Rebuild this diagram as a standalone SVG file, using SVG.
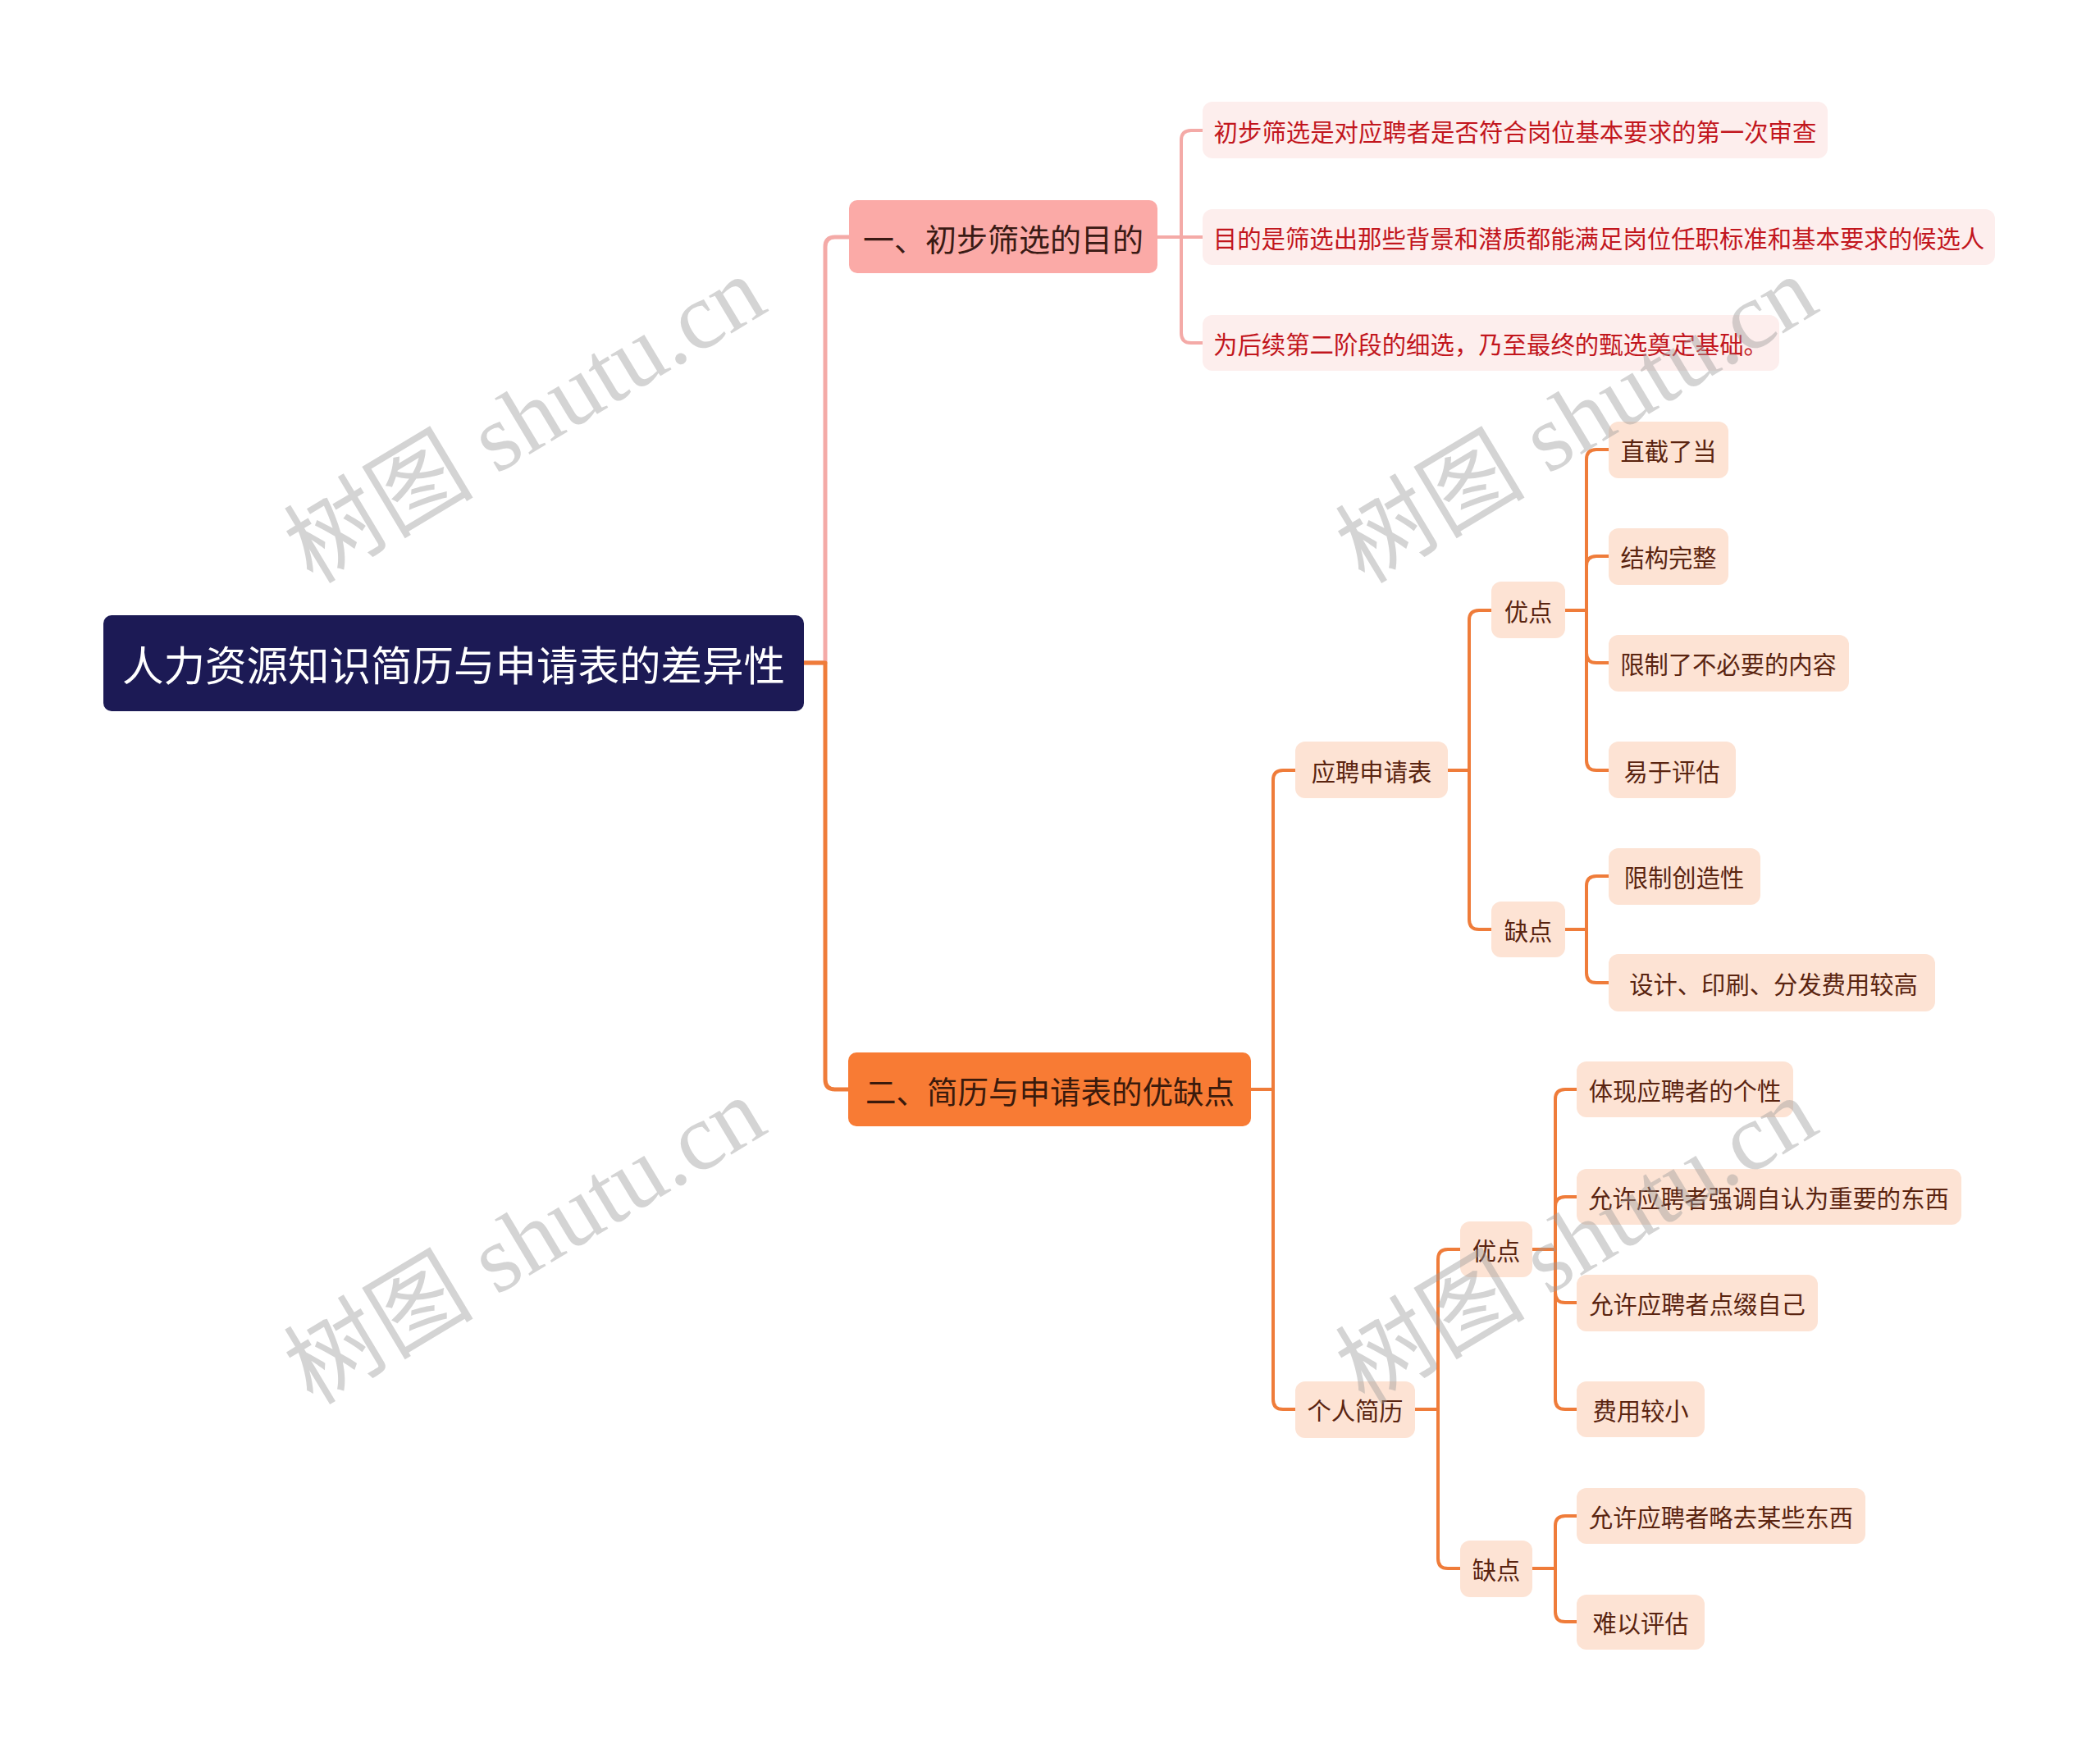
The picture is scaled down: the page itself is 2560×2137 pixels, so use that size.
<svg xmlns="http://www.w3.org/2000/svg" width="2560" height="2137" viewBox="0 0 2560 2137">
<style>
text{font-family:"Noto Sans CJK SC","Noto Sans",sans-serif;text-anchor:middle;dominant-baseline:central}
.root rect{fill:#1c1a55}
.root text{fill:#ffffff;font-size:50.5px}
.b1 rect{fill:#fbaaa7}
.b1 text{fill:#3a1a14;font-size:38px}
.b2 rect{fill:#f87b34}
.b2 text{fill:#3a1a0c;font-size:37.5px}
.l1 rect{fill:#fdeeed}
.l1 text{fill:#c2161d;font-size:29.4px}
.n rect{fill:#fde3d4}
.n text{fill:#5a2410;font-size:29.3px}
.c{fill:none;stroke-linecap:round;stroke-linejoin:round}
.cp{stroke:#f4aaa7}
.co{stroke:#ef7c3a}
.wm{font-family:"Liberation Serif","Noto Sans CJK SC",serif;font-size:116px;fill:#9a9a9a;opacity:0.42}
</style>
<rect width="2560" height="2137" fill="#ffffff"/>
<g id="connectors">
<path class="c cp" stroke-width="5" d="M980 808 H1006 V301 Q1006 289 1018 289 H1035"/>
<path class="c co" stroke-width="5" d="M980 808 H1006 V1316 Q1006 1328 1018 1328 H1034"/>
<g class="c cp" stroke-width="4">
<path d="M1411 289 H1440 V171 Q1440 159 1452 159 H1466"/>
<path d="M1411 289 H1466"/>
<path d="M1411 289 H1440 V406 Q1440 418 1452 418 H1466"/>
</g>
<g class="c co" stroke-width="4">
<path d="M1525 1328 H1552 V951 Q1552 939 1564 939 H1579"/>
<path d="M1525 1328 H1552 V1706 Q1552 1718 1564 1718 H1579"/>
<path d="M1765 939 H1791 V756 Q1791 744 1803 744 H1818"/>
<path d="M1765 939 H1791 V1121 Q1791 1133 1803 1133 H1818"/>
<path d="M1908 744 H1934 V560 Q1934 548 1946 548 H1961"/>
<path d="M1908 744 H1934 V690 Q1934 678 1946 678 H1961"/>
<path d="M1908 744 H1934 V796 Q1934 808 1946 808 H1961"/>
<path d="M1908 744 H1934 V927 Q1934 939 1946 939 H1961"/>
<path d="M1908 1133 H1934 V1080 Q1934 1068 1946 1068 H1961"/>
<path d="M1908 1133 H1934 V1186 Q1934 1198 1946 1198 H1961"/>
<path d="M1725 1718 H1753 V1535 Q1753 1523 1765 1523 H1780"/>
<path d="M1725 1718 H1753 V1900 Q1753 1912 1765 1912 H1780"/>
<path d="M1868 1523 H1896 V1340 Q1896 1328 1908 1328 H1922"/>
<path d="M1868 1523 H1896 V1471 Q1896 1459 1908 1459 H1922"/>
<path d="M1868 1523 H1896 V1576 Q1896 1588 1908 1588 H1922"/>
<path d="M1868 1523 H1896 V1706 Q1896 1718 1908 1718 H1922"/>
<path d="M1868 1912 H1896 V1860 Q1896 1848 1908 1848 H1922"/>
<path d="M1868 1912 H1896 V1965 Q1896 1977 1908 1977 H1922"/>
</g>
</g>
<g id="root" class="root"><rect x="126" y="750" width="854" height="117" rx="10"/><text x="553" y="808">人力资源知识简历与申请表的差异性</text></g>
<g id="b1" class="b1"><rect x="1035" y="244" width="376" height="89" rx="10"/><text x="1223" y="289">一、初步筛选的目的</text></g>
<g id="b1l1" class="l1"><rect x="1466" y="124" width="762" height="69" rx="12"/><text x="1847" y="159">初步筛选是对应聘者是否符合岗位基本要求的第一次审查</text></g>
<g id="b1l2" class="l1"><rect x="1466" y="255" width="966" height="68" rx="12"/><text x="1949" y="289">目的是筛选出那些背景和潜质都能满足岗位任职标准和基本要求的候选人</text></g>
<g id="b1l3" class="l1"><rect x="1466" y="384" width="703" height="68" rx="12"/><text x="1817" y="418">为后续第二阶段的细选，乃至最终的甄选奠定基础。</text></g>
<g id="b2" class="b2"><rect x="1034" y="1283" width="491" height="90" rx="10"/><text x="1280" y="1328">二、简历与申请表的优缺点</text></g>
<g id="form" class="n"><rect x="1579" y="904" width="186" height="69" rx="12"/><text x="1672" y="939">应聘申请表</text></g>
<g id="form-pro" class="n"><rect x="1818" y="709" width="90" height="69" rx="12"/><text x="1863" y="744">优点</text></g>
<g id="form-con" class="n"><rect x="1818" y="1099" width="90" height="68" rx="12"/><text x="1863" y="1133">缺点</text></g>
<g id="fp1" class="n"><rect x="1961" y="514" width="146" height="69" rx="12"/><text x="2034" y="548">直截了当</text></g>
<g id="fp2" class="n"><rect x="1961" y="644" width="146" height="69" rx="12"/><text x="2034" y="678">结构完整</text></g>
<g id="fp3" class="n"><rect x="1961" y="774" width="293" height="69" rx="12"/><text x="2107" y="808">限制了不必要的内容</text></g>
<g id="fp4" class="n"><rect x="1961" y="904" width="155" height="69" rx="12"/><text x="2038" y="939">易于评估</text></g>
<g id="fc1" class="n"><rect x="1961" y="1034" width="185" height="69" rx="12"/><text x="2053" y="1068">限制创造性</text></g>
<g id="fc2" class="n"><rect x="1961" y="1163" width="398" height="70" rx="12"/><text x="2162" y="1198">设计、印刷、分发费用较高</text></g>
<g id="resume" class="n"><rect x="1579" y="1684" width="146" height="69" rx="12"/><text x="1652" y="1718">个人简历</text></g>
<g id="resume-pro" class="n"><rect x="1780" y="1489" width="88" height="68" rx="12"/><text x="1824" y="1523">优点</text></g>
<g id="resume-con" class="n"><rect x="1780" y="1878" width="88" height="69" rx="12"/><text x="1824" y="1912">缺点</text></g>
<g id="rp1" class="n"><rect x="1922" y="1294" width="264" height="68" rx="12"/><text x="2054" y="1328">体现应聘者的个性</text></g>
<g id="rp2" class="n"><rect x="1922" y="1425" width="469" height="68" rx="12"/><text x="2156" y="1459">允许应聘者强调自认为重要的东西</text></g>
<g id="rp3" class="n"><rect x="1922" y="1554" width="294" height="69" rx="12"/><text x="2069" y="1588">允许应聘者点缀自己</text></g>
<g id="rp4" class="n"><rect x="1922" y="1684" width="156" height="68" rx="12"/><text x="2000" y="1718">费用较小</text></g>
<g id="rc1" class="n"><rect x="1922" y="1814" width="352" height="68" rx="12"/><text x="2098" y="1848">允许应聘者略去某些东西</text></g>
<g id="rc2" class="n"><rect x="1922" y="1944" width="156" height="67" rx="12"/><text x="2000" y="1977">难以评估</text></g>
<g id="watermark">
<text class="wm" transform="translate(640 512) rotate(-31)" x="0" y="0">树图 shutu.cn</text>
<text class="wm" transform="translate(640 1513) rotate(-31)" x="0" y="0">树图 shutu.cn</text>
<text class="wm" transform="translate(1922 512) rotate(-31)" x="0" y="0">树图 shutu.cn</text>
<text class="wm" transform="translate(1922 1513) rotate(-31)" x="0" y="0">树图 shutu.cn</text>
</g>
</svg>
